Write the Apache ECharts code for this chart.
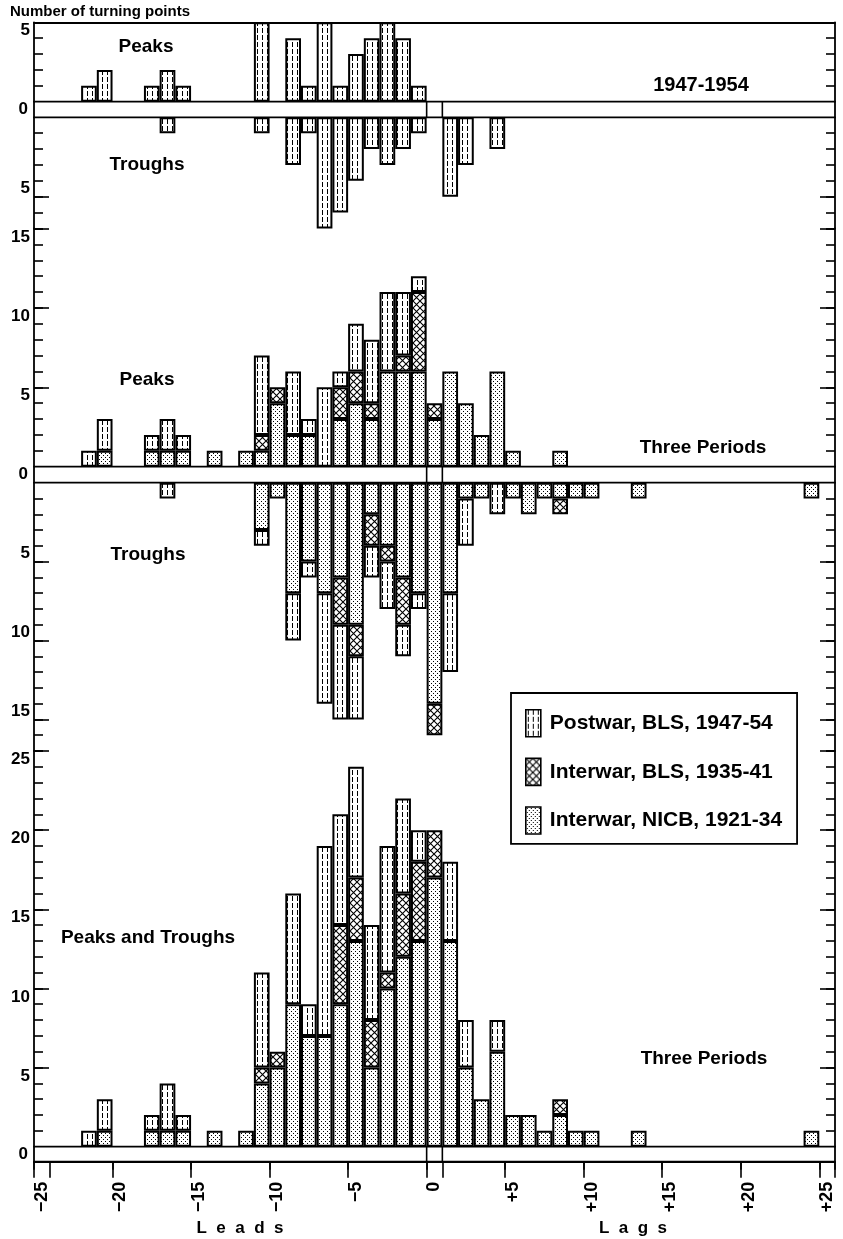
<!DOCTYPE html>
<html>
<head>
<meta charset="utf-8">
<title>Leads and lags at turning points</title>
<script src="https://cdn.jsdelivr.net/npm/echarts@6/dist/echarts.min.js"></script>
<style>
  html, body { margin: 0; padding: 0; background: #fff; }
  #chart { width: 843px; height: 1239px; }
</style>
</head>
<body>
<div id="chart"></div>
<script>
// months of lead (-) or lag (+)
var months = [];
for (var m = -25; m <= 25; m++) months.push(m);

// [month, number of turning points]
// 1947-1954 (postwar BLS only)
var postwarPeaks = [[-22,1],[-21,2],[-18,1],[-17,2],[-16,1],[-11,5],[-9,4],[-8,1],[-7,5],[-6,1],[-5,3],[-4,4],[-3,5],[-2,4],[-1,1]];
var postwarTroughs = [[-17,1],[-11,1],[-9,3],[-8,1],[-7,7],[-6,6],[-5,4],[-4,2],[-3,3],[-2,2],[-1,1],[1,5],[2,3],[4,2]];

// three periods, peaks
var nicbPeaks = [[-21,1],[-18,1],[-17,1],[-16,1],[-14,1],[-12,1],[-11,1],[-10,4],[-9,2],[-8,2],[-6,3],[-5,4],[-4,3],[-3,6],[-2,6],[-1,6],[0,3],[1,6],[2,4],[3,2],[4,6],[5,1],[8,1]];
var blsPeaks = [[-11,1],[-10,1],[-6,2],[-5,2],[-4,1],[-2,1],[-1,5],[0,1]];

// three periods, troughs
var nicbTroughs = [[-11,3],[-10,1],[-9,7],[-8,5],[-7,7],[-6,6],[-5,9],[-4,2],[-3,4],[-2,6],[-1,7],[0,14],[1,7],[2,1],[3,1],[5,1],[6,2],[7,1],[8,1],[9,1],[10,1],[13,1],[24,1]];
var blsTroughs = [[-6,3],[-5,2],[-4,2],[-3,1],[-2,3],[0,2],[8,1]];

// three periods, peaks and troughs
var nicbAll = [[-21,1],[-18,1],[-17,1],[-16,1],[-14,1],[-12,1],[-11,4],[-10,5],[-9,9],[-8,7],[-7,7],[-6,9],[-5,13],[-4,5],[-3,10],[-2,12],[-1,13],[0,17],[1,13],[2,5],[3,3],[4,6],[5,2],[6,2],[7,1],[8,2],[9,1],[10,1],[13,1],[24,1]];
var blsAll = [[-11,1],[-10,1],[-6,5],[-5,4],[-4,3],[-3,1],[-2,4],[-1,5],[0,3],[8,1]];
var postwarAll = [[-22,1],[-21,2],[-18,1],[-17,3],[-16,1],[-11,6],[-9,7],[-8,2],[-7,12],[-6,7],[-5,7],[-4,6],[-3,8],[-2,6],[-1,2],[1,5],[2,3],[4,2]];

var NAME_POST = 'Postwar, BLS, 1947-54';
var NAME_BLS = 'Interwar, BLS, 1935-41';
var NAME_NICB = 'Interwar, NICB, 1921-34';

var FONT = '"Liberation Sans", Arial, sans-serif';
var INK = '#000';

// layout (px)
var LEFT = 34, WIDTH = 801;
var panels = [
    { top: 22.3, height: 79.4, max: 5, inverse: false },   // 1947-54 peaks
    { top: 117.3, height: 111.2, max: 7, inverse: true },  // 1947-54 troughs
    { top: 228.5, height: 238.2, max: 15, inverse: false },// three periods peaks
    { top: 482.7, height: 268.3, max: 17, inverse: true }, // three periods troughs
    { top: 751, height: 395.7, max: 25, inverse: false }   // peaks and troughs
];
var bands = [[101.7, 117.3], [466.7, 482.7], [1146.7, 1161.7]];

// fill patterns like the hatching of the original
function makePattern(kind) {
    var c = document.createElement('canvas');
    var ctx;
    if (kind === 'nicb') {
        c.width = 4; c.height = 4;
        ctx = c.getContext('2d');
        ctx.fillStyle = '#fff'; ctx.fillRect(0, 0, 4, 4);
        ctx.fillStyle = '#000';
        ctx.fillRect(1, 1, 1, 1);
        ctx.fillRect(3, 3, 1, 1);
    } else if (kind === 'bls') {
        c.width = 7; c.height = 7;
        ctx = c.getContext('2d');
        ctx.fillStyle = '#fff'; ctx.fillRect(0, 0, 7, 7);
        ctx.strokeStyle = '#000'; ctx.lineWidth = 1.1;
        ctx.beginPath();
        ctx.moveTo(0, 0); ctx.lineTo(7, 7);
        ctx.moveTo(7, 0); ctx.lineTo(0, 7);
        ctx.stroke();
    } else {
        c.width = 5; c.height = 7;
        ctx = c.getContext('2d');
        ctx.fillStyle = '#fff'; ctx.fillRect(0, 0, 5, 7);
        ctx.fillStyle = '#000'; ctx.fillRect(2, 0, 1, 5);
    }
    return c;
}
var fills = { post: makePattern('post'), bls: makePattern('bls'), nicb: makePattern('nicb') };

function toCategories(pairs) {
    var arr = months.map(function () { return '-'; });
    pairs.forEach(function (p) { arr[p[0] + 25] = p[1]; });
    return arr;
}

function barSeries(name, key, g, pairs) {
    return {
        name: name,
        type: 'bar',
        stack: 'panel' + g,
        xAxisIndex: g,
        yAxisIndex: g * 4,
        barCategoryGap: '0%',
        data: toCategories(pairs),
        itemStyle: { color: { image: fills[key], repeat: 'repeat' }, borderColor: INK, borderWidth: 2 },
        emphasis: { disabled: true }
    };
}

// four y axes per panel: short and long ticks, left and right
function yAxesFor(g, p) {
    var shortTicks = [], longTicks = [];
    for (var v = 1; v <= p.max; v++) {
        shortTicks.push(v);
        if (v % 5 === 0) longTicks.push(v);
    }
    var axes = [];
    ['left', 'right'].forEach(function (side) {
        axes.push({
            type: 'value', gridIndex: g, position: side, min: 0, max: p.max, inverse: p.inverse,
            splitLine: { show: false },
            axisLine: { show: true, onZero: false, lineStyle: { color: INK, width: 1.8 } },
            axisTick: { show: true, inside: true, length: 9, customValues: shortTicks, lineStyle: { color: INK, width: 1.6 } },
            axisLabel: side === 'left' ? {
                show: true, customValues: longTicks, margin: 4, color: INK,
                fontFamily: FONT, fontSize: 17, fontWeight: 'bold',
                verticalAlign: p.inverse ? 'bottom' : 'top'
            } : { show: false }
        });
        axes.push({
            type: 'value', gridIndex: g, position: side, min: 0, max: p.max, inverse: p.inverse,
            splitLine: { show: false },
            axisLine: { show: false, onZero: false },
            axisTick: { show: true, inside: true, length: 15, customValues: longTicks, lineStyle: { color: INK, width: 1.6 } },
            axisLabel: { show: false }
        });
    });
    return axes;
}

var grids = panels.map(function (p) {
    return { left: LEFT, width: WIDTH, top: p.top, height: p.height, containLabel: false };
});

var yAxes = [];
panels.forEach(function (p, g) { yAxes = yAxes.concat(yAxesFor(g, p)); });

var hiddenX = function (g) {
    return { type: 'category', gridIndex: g, data: months, show: false };
};
var longTickMonths = [-25, -24, -20, -15, -10, -5, 0, 1, 5, 10, 15, 20, 25];
var xAxes = [
    { type: 'category', gridIndex: 0, data: months, position: 'top',
      axisLine: { show: true, onZero: false, lineStyle: { color: INK, width: 1.8 } },
      axisTick: { show: false }, axisLabel: { show: false } },
    hiddenX(1), hiddenX(2), hiddenX(3),
    { type: 'category', gridIndex: 4, data: months, position: 'bottom', offset: 15,
      axisLine: { show: true, onZero: false, lineStyle: { color: INK, width: 1.8 } },
      axisTick: { show: true, length: 8, lineStyle: { color: INK, width: 1.6 } },
      axisLabel: {
          show: true, rotate: 90, margin: 20, color: INK,
          fontFamily: FONT, fontSize: 18, fontWeight: 'bold',
          interval: function (i, v) { return Number(v) % 5 === 0; },
          formatter: function (v) {
              var n = Number(v);
              return n > 0 ? '+' + n : (n < 0 ? '\u2212' + (-n) : '0');
          }
      } },
    { type: 'category', gridIndex: 4, data: months, position: 'bottom', offset: 15,
      axisLine: { show: false, onZero: false },
      axisTick: { show: true, length: 16, lineStyle: { color: INK, width: 1.6 },
                  interval: function (i, v) { return longTickMonths.indexOf(Number(v)) >= 0; } },
      axisLabel: { show: false } }
];

var series = [
    barSeries(NAME_POST, 'post', 0, postwarPeaks),
    barSeries(NAME_POST, 'post', 1, postwarTroughs),

    barSeries(NAME_NICB, 'nicb', 2, nicbPeaks),
    barSeries(NAME_BLS, 'bls', 2, blsPeaks),
    barSeries(NAME_POST, 'post', 2, postwarPeaks),

    barSeries(NAME_NICB, 'nicb', 3, nicbTroughs),
    barSeries(NAME_BLS, 'bls', 3, blsTroughs),
    barSeries(NAME_POST, 'post', 3, postwarTroughs),

    barSeries(NAME_NICB, 'nicb', 4, nicbAll),
    barSeries(NAME_BLS, 'bls', 4, blsAll),
    barSeries(NAME_POST, 'post', 4, postwarAll)
];

// zero bands, with the empty zero-month column, and their "0" labels
var zeroL = LEFT + 25 * WIDTH / 51, zeroR = LEFT + 26 * WIDTH / 51;
var graphics = [];
bands.forEach(function (b) {
    graphics.push({ type: 'rect', shape: { x: LEFT, y: b[0], width: WIDTH, height: b[1] - b[0] },
                    style: { fill: 'none', stroke: INK, lineWidth: 1.8 } });
    [zeroL, zeroR].forEach(function (x) {
        graphics.push({ type: 'line', shape: { x1: x, y1: b[0], x2: x, y2: b[1] },
                        style: { stroke: INK, lineWidth: 1.6 } });
    });
    graphics.push({ type: 'text', x: 28, y: (b[0] + b[1]) / 2,
                    style: { text: '0', align: 'right', verticalAlign: 'middle', fill: INK,
                             font: 'bold 17px ' + FONT } });
});

function label(text, x, y, size) {
    return { type: 'text', x: x, y: y,
             style: { text: text, align: 'center', verticalAlign: 'middle', fill: INK,
                      font: 'bold ' + (size || 19) + 'px ' + FONT } };
}
graphics.push(
    { type: 'text', x: 10, y: 12, style: { text: 'Number of turning points', align: 'left', verticalAlign: 'middle', fill: INK, font: 'bold 15px ' + FONT } },
    label('Peaks', 146, 47),
    label('1947-1954', 701, 85, 20),
    label('Troughs', 147, 165),
    label('Peaks', 147, 380),
    label('Three Periods', 703, 448),
    label('Troughs', 148, 555),
    label('Peaks and Troughs', 148, 938),
    label('Three Periods', 704, 1059),
    label('L  e  a  d  s', 240, 1228, 17),
    label('L  a  g  s', 633, 1228, 17)
);

var chart = echarts.init(document.getElementById('chart'));
chart.setOption({
    animation: false,
    backgroundColor: '#fff',
    grid: grids,
    xAxis: xAxes,
    yAxis: yAxes,
    legend: {
        data: [NAME_POST, NAME_BLS, NAME_NICB],
        orient: 'vertical',
        left: 511, top: 693,
        icon: 'rect',
        itemWidth: 15, itemHeight: 27, itemGap: 20,
        padding: [16, 15, 9, 14],
        borderColor: INK, borderWidth: 1.8,
        backgroundColor: '#fff',
        selectedMode: false,
        itemStyle: { borderColor: INK, borderWidth: 1.6 },
        textStyle: { color: INK, fontFamily: FONT, fontSize: 21, fontWeight: 'bold', padding: [0, 0, 0, 4] }
    },
    series: series,
    graphic: graphics
});
</script>
</body>
</html>
